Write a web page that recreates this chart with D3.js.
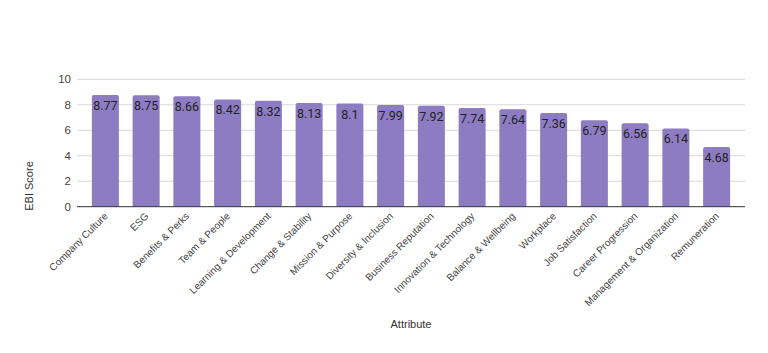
<!DOCTYPE html>
<html><head><meta charset="utf-8">
<script src="https://cdn.jsdelivr.net/npm/d3@7"></script>
<style>body{margin:0;background:#fff}svg{display:block}</style>
</head><body>
<script>
const categories = ["Company Culture","ESG","Benefits & Perks","Team & People","Learning & Development","Change & Stability","Mission & Purpose","Diversity & Inclusion","Business Reputation","Innovation & Technology","Balance & Wellbeing","Workplace","Job Satisfaction","Career Progression","Management & Organization","Remuneration"];
const scores = [8.77,8.75,8.66,8.42,8.32,8.13,8.1,7.99,7.92,7.74,7.64,7.36,6.79,6.56,6.14,4.68];
const yTicks = [0,2,4,6,8,10];
const yTitle = "EBI Score";
const xTitle = "Attribute";

(function(){
const W=768,H=353;
const svg=d3.select("body").append("svg").attr("width",W).attr("height",H);
const mL=77,mR=745,mT=79.3,mB=206.7;
const x=d3.scaleBand().domain(categories).range([mL,mR]).paddingInner(0.337).paddingOuter(0.365);
const y=d3.scaleLinear().domain([0,10]).range([mB,mT]);

svg.append("g").selectAll("line").data(yTicks.filter(d=>d>0)).join("line")
  .attr("x1",mL).attr("x2",mR).attr("y1",d=>y(d)).attr("y2",d=>y(d))
  .attr("stroke","#d9d9d9").attr("stroke-width",1);

const ya=svg.append("g").attr("transform",`translate(${mL},0)`)
  .call(d3.axisLeft(y).tickValues(yTicks).tickSize(0).tickPadding(6).tickFormat(d3.format("d")));
ya.select(".domain").remove();
ya.selectAll("text").attr("font-family","Liberation Sans, Arial, sans-serif").attr("font-size",11.5).attr("fill","#444");

svg.append("g").selectAll("path").data(scores).join("path")
  .attr("fill","#8e7cc3")
  .attr("d",(d,i)=>{
    const x0=x(categories[i]),w=x.bandwidth(),y0=y(d),y1=y(0),r=2;
    return `M${x0},${y1}V${y0+r}Q${x0},${y0} ${x0+r},${y0}H${x0+w-r}Q${x0+w},${y0} ${x0+w},${y0+r}V${y1}Z`;
  });

svg.append("g").selectAll("text").data(scores).join("text")
  .attr("x",(d,i)=>x(categories[i])+x.bandwidth()/2)
  .attr("y",d=>y(d)+15)
  .attr("text-anchor","middle")
  .attr("font-family","Roboto, sans-serif").attr("font-size",12.5).attr("fill","#222")
  .text(d=>d);

svg.append("line").attr("x1",mL).attr("x2",mR).attr("y1",mB).attr("y2",mB)
  .attr("stroke","#333").attr("stroke-width",1);

const xa=svg.append("g").attr("transform",`translate(0,${mB})`)
  .call(d3.axisBottom(x).tickSize(0).tickPadding(0));
xa.select(".domain").remove();
xa.selectAll("text")
  .attr("font-family","Liberation Sans, Arial, sans-serif").attr("font-size",10).attr("fill","#444")
  .attr("text-anchor","end").attr("dy",null).attr("y",null)
  .attr("transform","translate(3,10) rotate(-45)");

svg.append("text").attr("x",411).attr("y",328).attr("text-anchor","middle")
  .attr("font-family","Liberation Sans, Arial, sans-serif").attr("font-size",11).attr("fill","#333").text(xTitle);
svg.append("text").attr("transform","translate(33,186) rotate(-90)").attr("text-anchor","middle")
  .attr("font-family","Liberation Sans, Arial, sans-serif").attr("font-size",11).attr("fill","#333").text(yTitle);
})();
</script>
</body></html>
